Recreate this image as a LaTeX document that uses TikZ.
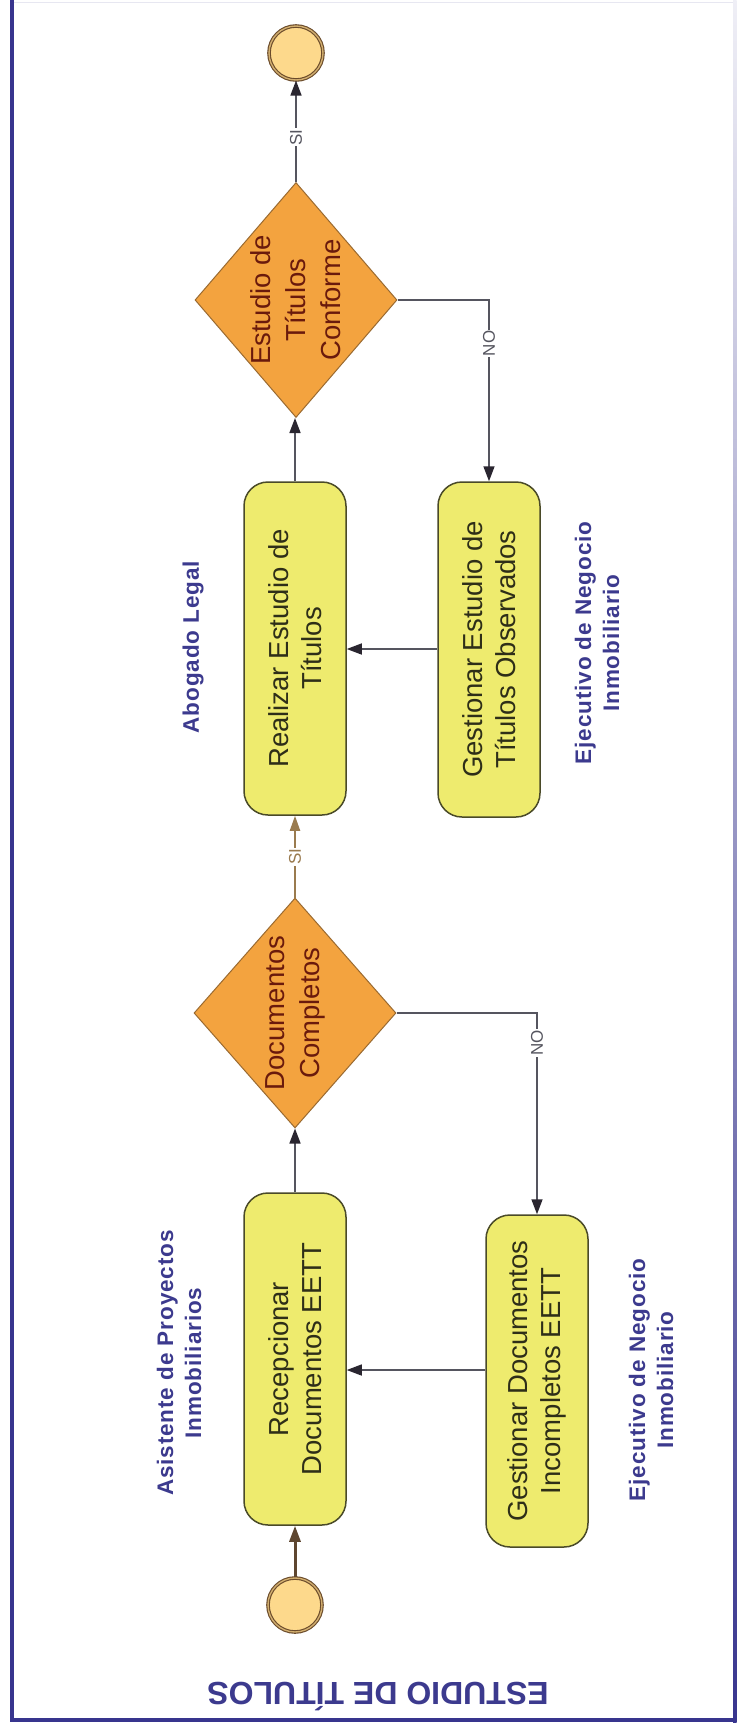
\documentclass[tikz,border=0pt]{standalone}
\usepackage{fontspec}
\setmainfont{Liberation Sans}
\newfontfamily\lanefont[LetterSpace=4]{Liberation Sans}
\usetikzlibrary{arrows.meta,shapes.geometric}
\definecolor{laneblue}{HTML}{3C3A8E}
\definecolor{framec}{HTML}{38358E}
\definecolor{taskfill}{HTML}{EEEB6E}
\definecolor{boxline}{HTML}{4A4A28}
\definecolor{boxtextc}{HTML}{2E2E18}
\definecolor{gatefill}{HTML}{F3A33F}
\definecolor{gateline}{HTML}{9A6A30}
\definecolor{gatetextc}{HTML}{6A1A0C}
\definecolor{evfill}{HTML}{FDD98C}
\definecolor{evline}{HTML}{6A4A2A}
\definecolor{flowgray}{HTML}{55555F}
\definecolor{tipc}{HTML}{2A2630}
\definecolor{startc}{HTML}{5E4630}
\definecolor{sic}{HTML}{9A7B4F}
\begin{document}
\begin{tikzpicture}[x=1pt,y=-1pt,
  taskbox/.style={draw=boxline, line width=1.5pt, fill=taskfill, rounded corners=24pt,
    minimum width=102pt, minimum height=332pt, inner sep=0pt},
  boxtext/.style={rotate=90, align=center, text=boxtextc, inner sep=0pt,
    font=\fontsize{27.5}{33}\selectfont},
  gate/.style={diamond, draw=gateline, line width=1pt, fill=gatefill,
    minimum width=202pt, minimum height=232pt, inner sep=0pt},
  gatetext/.style={rotate=90, align=center, text=gatetextc, inner sep=0pt,
    font=\fontsize{27.5}{35}\selectfont},
  event/.style={circle, draw=evline, line width=1.1pt, double=evfill!70!evline,
    double distance=1.4pt, fill=evfill, minimum size=54pt, inner sep=0pt},
  lanelabel/.style={rotate=90, align=center, text=laneblue, inner sep=0pt,
    font=\lanefont\bfseries\fontsize{22.5}{28}\selectfont},
  flow/.style={draw=flowgray, line width=1.5pt, -{Triangle[length=15pt,width=11pt,color=tipc]}},
  startflow/.style={draw=startc, line width=3pt, -{Triangle[length=16pt,width=11pt]}},
  siflow/.style={draw=sic, line width=2pt, -{Triangle[length=15pt,width=10pt]}},
  elabel/.style={rotate=90, fill=white, inner sep=1pt, text=flowgray,
    font=\fontsize{17}{17}\selectfont},
  silabel/.style={rotate=90, fill=white, inner sep=1pt, text=sic,
    font=\fontsize{17}{17}\selectfont}]

\useasboundingbox (0,0) rectangle (737,1735);
\fill[white] (0,0) rectangle (737,1735);

% frame of the sheet
\draw[line width=1pt, framec!12] (12,2) -- (735,2);
\shade[top color=framec!8, bottom color=framec] (733,0) rectangle (736.5,1722);
\draw[line width=4pt, framec] (12,0) -- (12,1720) -- (736,1720);

% title
\node[rotate=180, text=laneblue, inner sep=0pt, font=\bfseries\fontsize{32}{32}\selectfont]
  (title) at (378,1697) {ESTUDIO DE TÍTULOS};

% lane labels
\node[lanelabel] (lane1) at (179,1363) {Asistente de Proyectos\\Inmobiliarios};
\node[lanelabel] (lane2) at (651,1380) {Ejecutivo de Negocio\\Inmobiliario};
\node[lanelabel] (lane3) at (193,647) {Abogado Legal};
\node[lanelabel] (lane4) at (597,643) {Ejecutivo de Negocio\\Inmobiliario};

% events
\node[event] (start) at (295,1605) {};
\node[event] (fin) at (296,53) {};

% tasks
\node[taskbox] (rec) at (295,1359) {};
\node[boxtext] (rect) at (rec) {Recepcionar\\Documentos EETT};
\node[taskbox] (gdi) at (537,1381) {};
\node[boxtext] (gdit) at (gdi) {Gestionar Documentos\\Incompletos EETT};
\node[taskbox, minimum height=333pt] (rea) at (295,648.5) {};
\node[boxtext] (reat) at (rea) {Realizar Estudio de\\Títulos};
\node[taskbox, minimum height=335pt] (geo) at (489,649.5) {};
\node[boxtext] (geot) at (geo) {Gestionar Estudio de\\Títulos Observados};

% gateways
\node[gate, minimum height=230pt] (dc) at (295,1013) {};
\node[gatetext] (dct) at (dc) {Documentos\\Completos};
\node[gate, minimum height=235pt] (conf) at (296,300) {};
\node[gatetext] (conft) at (conf) {Estudio de\\Títulos\\Conforme};

% connectors
\coordinate (y1) at (0,1370);
\coordinate (y2) at (0,649);
\draw[startflow] (start.north) -- (rec.south);
\draw[flow] (rec.north) -- (dc.south);
\draw[flow] (dc.east) -| (gdi.north) node[elabel, pos=0.575] {NO};
\draw[flow] (gdi.west |- y1) -- (rec.east |- y1);
\draw[siflow] (dc.north) -- (rea.south) node[silabel, midway] {SI};
\draw[flow] (geo.west |- y2) -- (rea.east |- y2);
\draw[flow] (rea.north) -- (rea.north |- conf.south);
\draw[flow] (conf.east) -| (geo.north) node[elabel, pos=0.62] {NO};
\draw[flow] (conf.north) -- (fin.south) node[elabel, pos=0.44] {SI};
\end{tikzpicture}
\end{document}
